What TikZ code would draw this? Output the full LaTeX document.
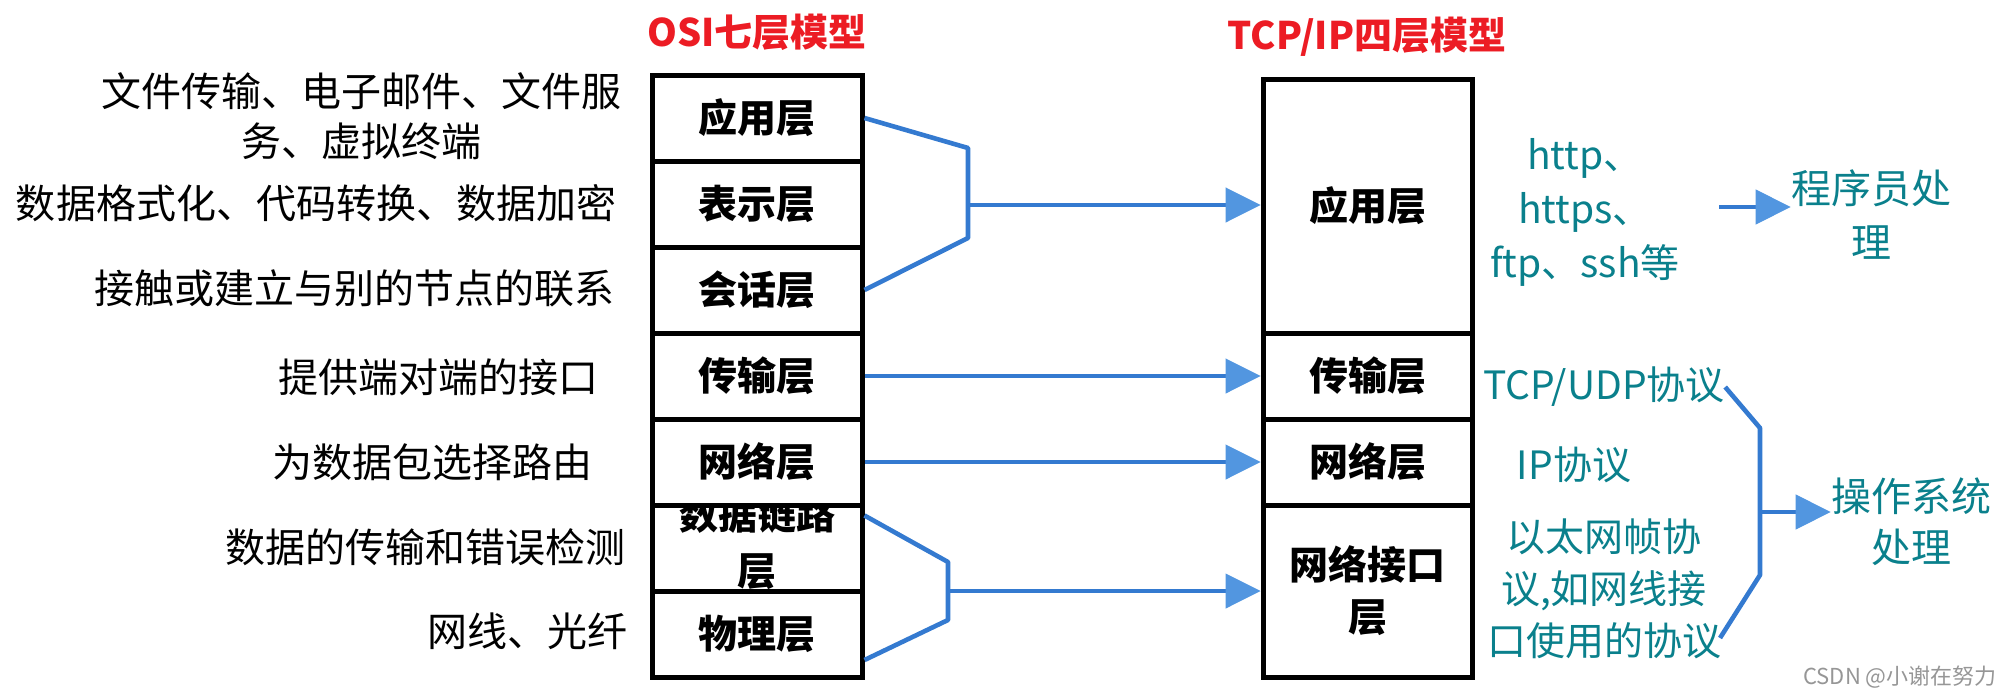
\documentclass[tikz,border=0pt]{standalone}
\usepackage{fontspec}
\setmainfont{Noto Sans CJK SC}
\usetikzlibrary{arrows.meta}
\definecolor{lineblue}{RGB}{52,122,208}
\definecolor{headblue}{RGB}{82,150,224}
\definecolor{titlered}{RGB}{236,28,36}
\definecolor{tealtext}{RGB}{10,128,140}
\definecolor{wmgray}{RGB}{150,150,150}
\tikzset{
  cell/.style={draw=black, line width=2.5pt, minimum width=105pt, inner sep=0pt,
    font=\bfseries\fontsize{19.5pt}{26pt}\selectfont, align=center},
  tcell/.style={cell, minimum width=104.5pt},
  desc/.style={font=\fontsize{20pt}{25pt}\selectfont, align=center, inner sep=0pt},
  title/.style={font=\bfseries\fontsize{19pt}{22pt}\selectfont, text=titlered, inner sep=0pt},
  proto/.style={font=\fontsize{19.5pt}{26pt}\selectfont, text=tealtext, align=center, inner sep=0pt},
  link/.style={draw=lineblue, line width=2.3pt, line join=round},
  arrowlink/.style={link, -{Triangle[length=17.5pt,width=17.5pt,line width=0.5pt,fill=headblue,color=headblue]}},
}
\begin{document}
\begin{tikzpicture}[x=0.5pt,y=-0.5pt]
\useasboundingbox (0,0) rectangle (2000,696);
% titles
\node[title] (osititle) at (757,32) {OSI七层模型};
\node[title] (tcptitle) at (1367,37) {TCP/IP四层模型};
% OSI stack
\node[cell, minimum height=43pt] (app) at (757,118) {应用层};
\node[cell, minimum height=43pt] (pre) at (757,204) {表示层};
\node[cell, minimum height=43pt] (ses) at (757,290) {会话层};
\node[cell, minimum height=43pt] (tra) at (757,376) {传输层};
\node[cell, minimum height=43pt] (net) at (757,462) {网络层};
\begin{scope}
  \clip (652,505) rectangle (862,591);
  \node[cell, draw=none, font=\bfseries\fontsize{19.5pt}{28pt}\selectfont] (dltext) at (757,543) {数据链路\\层};
\end{scope}
\node[cell, minimum height=43pt] (dl) at (757,548) {};
\node[cell, minimum height=43pt] (phy) at (757,634) {物理层};
% TCP/IP stack
\node[tcell, minimum height=127pt] (tapp) at (1367.5,206) {应用层};
\node[tcell, minimum height=43pt] (ttra) at (1367.5,376) {传输层};
\node[tcell, minimum height=43pt] (tnet) at (1367.5,462) {网络层};
\node[tcell, minimum height=86pt] (tnif) at (1367.5,591) {网络接口\\层};
% left descriptions
\node[desc] (d1) at (361,116) {文件传输、电子邮件、文件服\\务、虚拟终端};
\node[desc] (d2) at (316,203) {数据格式化、代码转换、数据加密};
\node[desc] (d3) at (354,288) {接触或建立与别的节点的联系};
\node[desc] (d4) at (438,377) {提供端对端的接口};
\node[desc] (d5) at (432,462) {为数据包选择路由};
\node[desc] (d6) at (425,547) {数据的传输和错误检测};
\node[desc] (d7) at (527,631) {网线、光纤};
% right protocols
\node[proto, font=\fontsize{19.5pt}{27pt}\selectfont] (apps) at (1585,212) {http、\\https、\\ftp、ssh等};
\node[proto] (tcpudp) at (1604,387) {TCP/UDP协议};
\node[proto] (ipp) at (1574,465) {IP协议};
\node[proto, font=\fontsize{19.5pt}{26pt}\selectfont] (eth) at (1604,589) {以太网帧协\\议,如网线接\\口使用的协议};
\node[proto, font=\fontsize{20pt}{27pt}\selectfont] (prog) at (1871,215) {程序员处\\理};
\node[proto, font=\fontsize{20pt}{25.5pt}\selectfont] (os) at (1911,522) {操作系统\\处理};
\node[font=\fontsize{11pt}{13pt}\selectfont, text=wmgray, inner sep=0pt] (wm) at (1900,677) {CSDN @小谢在努力};
% connectors left
\coordinate (b1t) at (968,148);
\coordinate (b1b) at (968,238);
\coordinate (b1m) at (968,205);
\draw[link] (app.east) -- (b1t) -- (b1b) -- (ses.east);
\draw[arrowlink] (b1m) -- (b1m -| tapp.west);
\draw[arrowlink] (tra.east) -- (ttra.west);
\draw[arrowlink] (net.east) -- (tnet.west);
\coordinate (b2t) at (948,562);
\coordinate (b2b) at (948,620);
\coordinate (b2m) at (948,591);
\draw[link] ([yshift=-6.5pt]dl.north east) -- (b2t) -- (b2b) -- ([yshift=-13pt]phy.east);
\draw[arrowlink] (b2m) -- (tnif.west);
% connectors right
\coordinate (c1) at (1719,207);
\draw[arrowlink] (c1) -- (c1 -| prog.west);
\coordinate (b3t) at (1760,428);
\coordinate (b3b) at (1760,575);
\coordinate (b3e) at (1720,638);
\coordinate (b3m) at (1760,512);
\draw[link] (tcpudp.east) -- (b3t) -- (b3b) -- (b3e);
\draw[arrowlink] (b3m) -- (b3m -| os.west);
\end{tikzpicture}
\end{document}
